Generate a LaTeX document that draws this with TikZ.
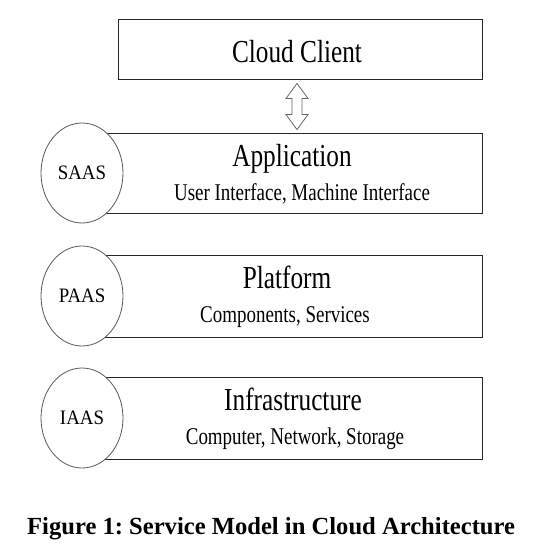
\documentclass[tikz,border=0pt]{standalone}
\usepackage{fontspec}
\setmainfont{Liberation Serif}
\newfontfamily\cond[FakeStretch=0.79]{Liberation Serif}
\newfontfamily\condb[FakeStretch=0.92]{Liberation Serif}
\usetikzlibrary{calc,shapes.geometric}
\begin{document}
\frenchspacing
\begin{tikzpicture}[x=1pt,y=-1pt,
  layerbox/.style={draw=black!85,line width=0.9pt,rectangle,inner sep=0pt},
  tagcircle/.style={draw=black!65,line width=0.8pt,fill=white,ellipse,inner sep=0pt,minimum width=82pt,minimum height=100pt},
  titletext/.style={anchor=base,inner sep=0pt,font=\cond\fontsize{32}{36}\selectfont},
  subtext/.style={anchor=base,inner sep=0pt,font=\cond\fontsize{24}{28}\selectfont},
  tagtext/.style={inner sep=0pt,font=\condb\fontsize{20.5}{24}\selectfont},
  arrowshape/.style={draw=black!60,line width=0.8pt,fill=white,line join=miter}
]
\useasboundingbox (0,0) rectangle (535,550);
% boxes
\node[layerbox,minimum width=364pt,minimum height=60pt] (cloud) at (300,49) {};
\node[layerbox,minimum width=382pt,minimum height=80pt] (app) at (291,173) {};
\node[layerbox,minimum width=382pt,minimum height=82pt] (plat) at (291,296) {};
\node[layerbox,minimum width=382pt,minimum height=82pt] (infra) at (291,418) {};
% circles
\node[tagcircle] (saas) at (82,173) {};
\node[tagcircle] (paas) at (82,296) {};
\node[tagcircle] (iaas) at (82,418) {};
\node[tagtext] (saast) at (saas.center) {SAAS};
\node[tagtext] (paast) at (paas.center) {PAAS};
\node[tagtext] (iaast) at (iaas.center) {IAAS};
% texts
\node[titletext] (cloudt) at (297,62) {Cloud Client};
\node[titletext] (appt) at (292,166) {Application};
\node[subtext] (apps) at (302,200) {User Interface, Machine Interface};
\node[titletext] (platt) at (287,288) {Platform};
\node[subtext] (plats) at (285,322) {Components, Services};
\node[titletext] (infrat) at (293,410) {Infrastructure};
\node[subtext] (infras) at (295,444) {Computer, Network, Storage};
% double arrow
\coordinate (atop) at ($(cloud.south)+(-3,4)$);
\coordinate (abot) at ($(app.north)+(6,-3)$);
\draw[arrowshape] (atop) -- ++(11,15) -- ++(-6,0) -- ($(abot)+(5,-15)$) -- ++(6,0) -- (abot) -- ++(-11,-15) -- ++(6,0) -- ($(atop)+(-5,15)$) -- ++(-6,0) -- cycle;
% caption
\node[anchor=base west,inner sep=0pt,font=\bfseries\fontsize{24.6}{28}\selectfont] (caption) at (27,534) {Figure 1: Service Model in Cloud Architecture};
\end{tikzpicture}
\end{document}
